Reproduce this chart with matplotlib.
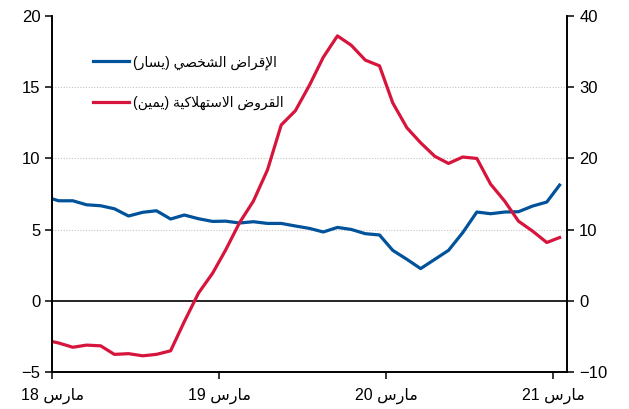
import matplotlib.pyplot as plt
import numpy as np
import pandas as pd

# monthly data, Feb 2018 .. Mar 2021 (plotted mid-month)
months = pd.date_range('2018-02-01', '2021-03-01', freq='MS') + pd.Timedelta(days=14)

personal_lending = [7.3, 7.03, 7.03, 6.75, 6.68, 6.47, 5.96, 6.22, 6.33, 5.75, 6.03,
                    5.77, 5.58, 5.6, 5.47, 5.56, 5.44, 5.44, 5.26, 5.09, 4.84, 5.16, 5.02,
                    4.72, 4.63, 3.55, 2.92, 2.27, 2.92, 3.55, 4.79, 6.24, 6.12, 6.24, 6.26,
                    6.66, 6.94, 8.13]
consumer_loans = [-5.5, -5.9, -6.5, -6.2, -6.3, -7.5, -7.4, -7.7, -7.5, -7.0, -2.9,
                  1.1, 3.9, 7.1, 11.0, 14.0, 18.4, 24.7, 26.7, 30.3, 34.2, 37.2, 35.9,
                  33.8, 33.0, 27.8, 24.3, 22.2, 20.3, 19.3, 20.2, 20.0, 16.4, 14.0, 11.2,
                  9.8, 8.2, 8.9]

tick_dates = pd.to_datetime(['2018-03-01', '2019-03-01', '2020-03-01', '2021-03-01'])
tick_labels = ['مارس 18', 'مارس 19', 'مارس 20', 'مارس 21']
label_left = 'الإقراض الشخصي (يسار)'
label_right = 'القروض الاستهلاكية (يمين)'

# small arabic shaper: (isolated, final, initial, medial)
FORMS = {
    'ا': (0xFE8D, 0xFE8E, None, None),
    'إ': (0xFE87, 0xFE88, None, None),
    'ة': (0xFE93, 0xFE94, None, None),
    'ت': (0xFE95, 0xFE96, 0xFE97, 0xFE98),
    'خ': (0xFEA5, 0xFEA6, 0xFEA7, 0xFEA8),
    'ر': (0xFEAD, 0xFEAE, None, None),
    'س': (0xFEB1, 0xFEB2, 0xFEB3, 0xFEB4),
    'ش': (0xFEB5, 0xFEB6, 0xFEB7, 0xFEB8),
    'ص': (0xFEB9, 0xFEBA, 0xFEBB, 0xFEBC),
    'ض': (0xFEBD, 0xFEBE, 0xFEBF, 0xFEC0),
    'ق': (0xFED5, 0xFED6, 0xFED7, 0xFED8),
    'ك': (0xFED9, 0xFEDA, 0xFEDB, 0xFEDC),
    'ل': (0xFEDD, 0xFEDE, 0xFEDF, 0xFEE0),
    'م': (0xFEE1, 0xFEE2, 0xFEE3, 0xFEE4),
    'ن': (0xFEE5, 0xFEE6, 0xFEE7, 0xFEE8),
    'ه': (0xFEE9, 0xFEEA, 0xFEEB, 0xFEEC),
    'و': (0xFEED, 0xFEEE, None, None),
    'ي': (0xFEF1, 0xFEF2, 0xFEF3, 0xFEF4),
}
LAM_ALEF = {'ا': (0xFEFB, 0xFEFC), 'إ': (0xFEF9, 0xFEFA), 'أ': (0xFEF7, 0xFEF8)}


def shape(text):
    out = []
    i = 0
    while i < len(text):
        c = text[i]
        if c not in FORMS:
            out.append(c)
            i += 1
            continue
        prev = text[i - 1] if i > 0 else ''
        conn_prev = prev in FORMS and FORMS[prev][2] is not None
        nxt = text[i + 1] if i + 1 < len(text) else ''
        if c == 'ل' and nxt in LAM_ALEF:
            iso, fin = LAM_ALEF[nxt]
            out.append(chr(fin if conn_prev else iso))
            i += 2
            continue
        conn_next = FORMS[c][2] is not None and nxt in FORMS
        f = FORMS[c]
        if conn_prev and conn_next:
            out.append(chr(f[3]))
        elif conn_prev:
            out.append(chr(f[1]))
        elif conn_next:
            out.append(chr(f[2]))
        else:
            out.append(chr(f[0]))
        i += 1
    s = ''.join(out)
    # visual order: reverse, keep digit runs, mirror brackets
    runs, cur = [], ''
    for ch in s:
        if cur and (ch.isdigit() != cur[-1].isdigit()):
            runs.append(cur)
            cur = ''
        cur += ch
    runs.append(cur)
    mirror = {'(': ')', ')': '('}
    vis = []
    for r in reversed(runs):
        if r[0].isdigit():
            vis.append(r)
        else:
            vis.append(''.join(mirror.get(ch, ch) for ch in reversed(r)))
    return ''.join(vis)


plt.rcParams['font.family'] = ['Liberation Sans', 'DejaVu Sans']

fig = plt.figure(figsize=(6.29, 4.09), dpi=100)
ax = fig.add_axes([0.083, 0.09, 0.819, 0.871])
ax2 = ax.twinx()

blue = '#00529b'
red = '#d7143c'

l1, = ax.plot(months, personal_lending, color=blue, lw=2.3, label=shape(label_left))
l2, = ax2.plot(months, consumer_loans, color=red, lw=2.3, label=shape(label_right))

ax.set_ylim(-5, 20)
ax2.set_ylim(-10, 40)
ax.set_yticks([-5, 0, 5, 10, 15, 20])
ax2.set_yticks([-10, 0, 10, 20, 30, 40])
ax.set_xlim(pd.Timestamp('2018-03-01'), pd.Timestamp('2021-04-01'))
ax.set_xticks(tick_dates)
ax.set_xticklabels([shape(t) for t in tick_labels])

for y in [5, 10, 15]:
    ax.axhline(y, color='#c4c4c4', lw=0.8, ls=(0, (1, 1.5)), zorder=0)
ax.axhline(0, color='black', lw=1.2, zorder=1)

for a in (ax, ax2):
    a.spines['top'].set_visible(False)
    for s in ('left', 'right', 'bottom'):
        a.spines[s].set_linewidth(1.2)
    a.tick_params(labelsize=12, length=5, width=1.1, direction='out')
ax.tick_params(axis='x', pad=6, labelsize=11.5)

leg = ax.legend(handles=[l1, l2], loc='upper left', bbox_to_anchor=(0.055, 0.925),
                frameon=False, fontsize=10, handlelength=2.6, labelspacing=1.85,
                handletextpad=0.3)

fig.savefig('out.png', dpi=100)
